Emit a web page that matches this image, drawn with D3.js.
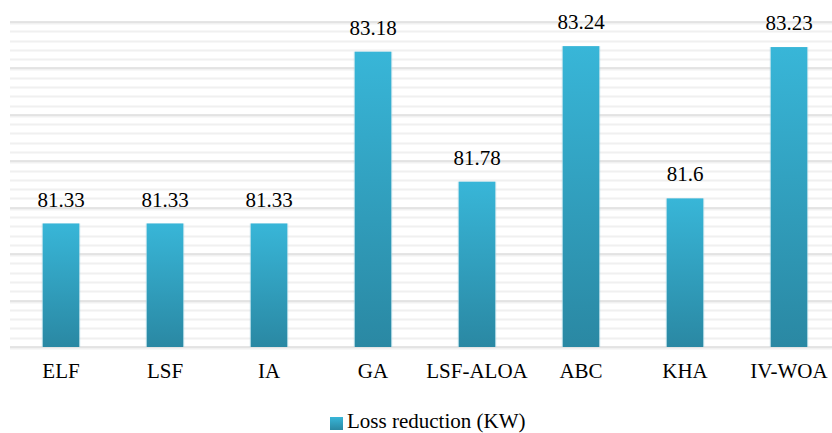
<!DOCTYPE html>
<html><head><meta charset="utf-8">
<script src="https://cdn.jsdelivr.net/npm/d3@7"></script>
<style>body{margin:0;background:#fff}</style>
</head><body>
<script>
const categories = ["ELF","LSF","IA","GA","LSF-ALOA","ABC","KHA","IV-WOA"];
const values = [81.33,81.33,81.33,83.18,81.78,83.24,81.6,83.23];
const valueLabels = ["81.33","81.33","81.33","83.18","81.78","83.24","81.6","83.23"];
const seriesName = "Loss reduction (KW)";
const majorTicks = [80,80.5,81,81.5,82,82.5,83,83.5];

const W=832,H=433;
const svg=d3.select("body").append("svg").attr("width",W).attr("height",H)
  .style("font-family","Times New Roman").style("display","block");
const defs=svg.append("defs");
const g=defs.append("linearGradient").attr("id","bg").attr("x1",0).attr("y1",0).attr("x2",0).attr("y2",1);
g.append("stop").attr("offset","0%").attr("stop-color","#38b6d8");
g.append("stop").attr("offset","100%").attr("stop-color","#2a88a3");

const x=d3.scaleBand().domain(categories).range([9,841]).paddingInner(0.65).paddingOuter(0.325);
const y=d3.scaleLinear().domain([80,83.5]).range([347,22]);

const left=10,right=832;
const minor=d3.range(0,36).map(i=>80+i*0.1).filter(v=>Math.abs(v*2-Math.round(v*2))>0.01);
svg.append("g").selectAll("line").data(minor).join("line")
  .attr("x1",left).attr("x2",right)
  .attr("y1",d=>Math.round(y(d))+0.5).attr("y2",d=>Math.round(y(d))+0.5)
  .attr("stroke","#f0f0f0").attr("stroke-width",2);
const maj=svg.append("g");
maj.selectAll("line.s").data(majorTicks).join("line").attr("class","s")
  .attr("x1",left).attr("x2",right)
  .attr("y1",d=>Math.round(y(d))+1.5).attr("y2",d=>Math.round(y(d))+1.5)
  .attr("stroke","#f1f1f1").attr("stroke-width",2);
maj.selectAll("line.m").data(majorTicks).join("line").attr("class","m")
  .attr("x1",left).attr("x2",right)
  .attr("y1",d=>Math.round(y(d))).attr("y2",d=>Math.round(y(d)))
  .attr("stroke","#dcdcdc").attr("stroke-width",1.6);

const bars=svg.append("g");
bars.selectAll("rect.sh").data(categories).join("rect").attr("class","sh")
  .attr("x",d=>x(d)-1).attr("width",x.bandwidth()+2)
  .attr("y",(d,i)=>y(values[i])).attr("height",(d,i)=>y(80)-y(values[i]))
  .attr("fill","#9ed3e3").attr("opacity",0.6);
bars.selectAll("rect.b").data(categories).join("rect").attr("class","b")
  .attr("x",d=>x(d)).attr("width",x.bandwidth())
  .attr("y",(d,i)=>y(values[i])).attr("height",(d,i)=>y(80)-y(values[i]))
  .attr("fill","url(#bg)");

svg.append("g").selectAll("text").data(valueLabels).join("text")
  .attr("x",(d,i)=>x(categories[i])+x.bandwidth()/2).attr("y",(d,i)=>y(values[i])-17)
  .attr("text-anchor","middle").style("font-family",()=>"Times New Roman")
  .attr("font-size",21).attr("fill","#000").text(d=>d);

svg.append("g").selectAll("text").data(categories).join("text")
  .attr("x",d=>x(d)+x.bandwidth()/2).attr("y",378)
  .attr("text-anchor","middle").style("font-family",()=>"Times New Roman")
  .attr("font-size",21).attr("fill","#000").text(d=>d);

const lg=svg.append("g");
lg.append("rect").attr("x",330).attr("y",417).attr("width",13).attr("height",13).attr("fill","url(#bg)");
lg.selectAll("text").data([seriesName]).join("text").attr("x",347).attr("y",428)
  .style("font-family",()=>"Times New Roman")
  .attr("font-size",21).attr("fill","#000").text(d=>d);
</script>
</body></html>
